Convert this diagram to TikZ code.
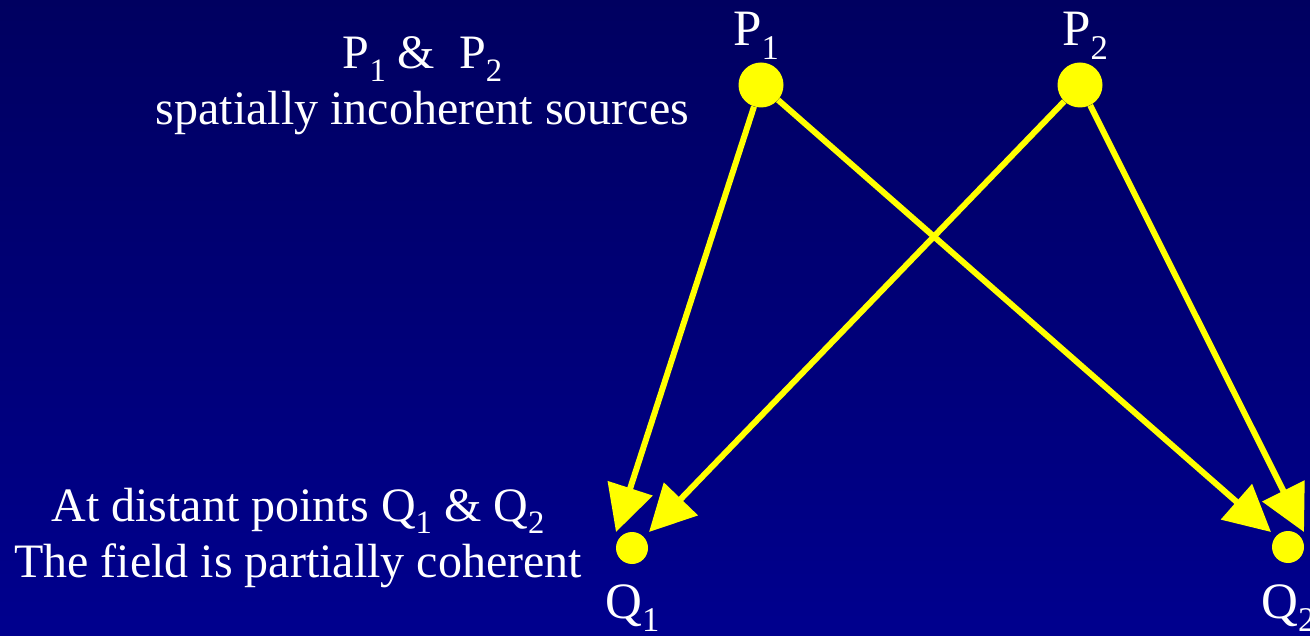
\documentclass[tikz,border=0pt]{standalone}
\usepackage{fontspec}
\setmainfont{Liberation Serif}
\usetikzlibrary{arrows.meta}
\definecolor{bgtop}{RGB}{0,0,96}
\definecolor{bgbot}{RGB}{0,0,142}
\definecolor{ray}{RGB}{255,255,0}
\newcommand\lowsub[1]{\raisebox{-0.26em}{\scalebox{0.68}{#1}}}
\begin{document}
\begin{tikzpicture}[x=1pt,y=-1pt,
  txt/.style={text=white,inner sep=0pt,font=\fontsize{48}{56}\selectfont},
  lbl/.style={text=white,inner sep=0pt,anchor=base west,font=\fontsize{51}{60}\selectfont},
  src/.style={circle,fill=ray,inner sep=0pt,minimum size=45pt},
  pt/.style={circle,fill=ray,inner sep=0pt,minimum size=32pt},
  ray/.style={draw=ray,line width=6pt,-{Triangle[length=46pt,width=46pt]}}]
\path[use as bounding box] (0,0) rectangle (1310,636);
\shade[top color=bgtop,bottom color=bgbot] (0,0) rectangle (1310,636);
% text blocks
\node[txt,align=center,anchor=base] (t1) at (422.5,125) {P\lowsub{1} \&\ \ P\lowsub{2}\\spatially incoherent sources};
\node[txt,align=center,anchor=base] (t2) at (298,577) {At distant points Q\lowsub{1} \& Q\lowsub{2}\\The field is partially coherent};
% points
\node[src] (P1) at (761,85) {};
\node[src] (P2) at (1080,85) {};
\node[pt] (Q1) at (632,548) {};
\node[pt] (Q2) at (1288,547) {};
% labels
\node[lbl] (lP1) at (733,46) {P\lowsub{1}};
\node[lbl] (lP2) at (1062,46) {P\lowsub{2}};
\node[lbl] (lQ1) at (605,618) {Q\lowsub{1}};
\node[lbl] (lQ2) at (1261,618) {Q\lowsub{2}};
% arrow tips
\coordinate (a11) at (616,532);
\coordinate (a21) at (649,532);
\coordinate (a12) at (1271,532);
\coordinate (a22) at (1304,532);
\draw[ray] (P1) -- (a11);
\draw[ray] (P2) -- (a21);
\draw[ray] (P1) -- (a12);
\draw[ray] (P2) -- (a22);
\end{tikzpicture}
\end{document}
